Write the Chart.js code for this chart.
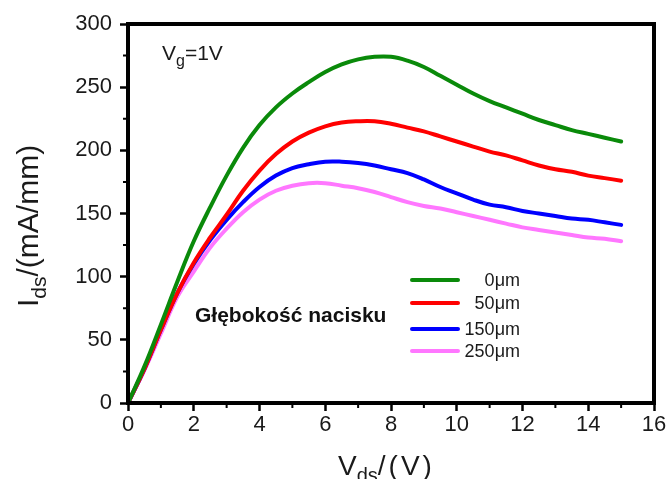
<!DOCTYPE html>
<html>
<head>
<meta charset="utf-8">
<script src="https://cdn.jsdelivr.net/npm/chart.js@4/dist/chart.umd.min.js"></script>
<style>
  html, body { margin: 0; padding: 0; background: #fff; }
  #wrap { width: 668px; height: 479px; }
</style>
</head>
<body>
<div id="wrap"><canvas id="c" width="668" height="479"></canvas></div>
<script>
// Drain voltage (V)
const vds = [0, 0.5, 1, 1.5, 2, 2.5, 3, 3.5, 4, 4.5, 5, 5.5, 6, 6.5, 7, 7.5,
             8, 8.5, 9, 9.5, 10, 10.5, 11, 11.5, 12, 12.5, 13, 13.5, 14, 14.5, 15];

// Drain current (mA/mm) for each indentation depth
const ids0 =   [0, 29, 62, 96, 128, 155, 180, 202, 220, 234, 245, 254, 262, 268, 272, 274,
                274, 271, 266, 259, 252, 245, 239, 234, 229, 224, 220, 216, 213, 210, 207];
const ids50 =  [0, 27, 58, 87, 111, 131, 149, 168, 184, 197, 207, 214, 219, 222, 223, 223,
                221, 218, 215, 211, 207, 203, 199, 196, 192, 188, 185, 183, 180, 178, 176];
const ids150 = [0, 27, 58, 87, 110, 129, 145, 159, 171, 180, 186, 189, 191, 191, 190, 188,
                185, 182, 177, 171, 166, 161, 157, 155, 152, 150, 148, 146, 145, 143, 141];
const ids250 = [0, 26, 55, 84, 104, 123, 138, 151, 161, 168, 172, 174, 174, 172, 170, 167,
                163, 159, 156, 154, 151, 148, 145, 142, 139, 137, 135, 133, 131, 130, 128];

const seriesLabels = ['0\u03bcm', '50\u03bcm', '150\u03bcm', '250\u03bcm'];
const seriesColors = ['#0a8a0a', '#ff0000', '#0000ff', '#ff77ff'];
const seriesValues = [ids0, ids50, ids150, ids250];

const xTicks = [0, 2, 4, 6, 8, 10, 12, 14, 16];
const yTicks = [0, 50, 100, 150, 200, 250, 300];

const FONT = '"Liberation Sans", Arial, sans-serif';
Chart.defaults.font.family = FONT;

// Draws a run of text pieces (with optional subscripts) starting at x, y.
function drawRuns(ctx, runs, x, y) {
  let cx = x;
  for (const r of runs) {
    ctx.font = (r.bold ? 'bold ' : '') + r.size + 'px ' + FONT;
    ctx.letterSpacing = (r.spacing || 0) + 'px';
    ctx.fillText(r.t, cx, y + (r.dy || 0));
    cx += ctx.measureText(r.t).width;
  }
  ctx.letterSpacing = '0px';
}

const decorations = {
  id: 'decorations',
  afterDatasetsDraw(chart) {
    const { ctx, chartArea: a, scales } = chart;
    const xs = scales.x, ys = scales.y;
    ctx.save();

    // plot frame
    ctx.strokeStyle = '#000';
    ctx.lineWidth = 4;
    ctx.strokeRect(a.left, a.top, a.right - a.left, a.bottom - a.top);

    // minor ticks
    ctx.lineWidth = 2;
    ctx.beginPath();
    for (let v = 1; v < 16; v += 2) {
      const px = xs.getPixelForValue(v);
      ctx.moveTo(px, a.bottom);
      ctx.lineTo(px, a.bottom + 5);
    }
    for (let v = 25; v < 300; v += 50) {
      const py = ys.getPixelForValue(v);
      ctx.moveTo(a.left, py);
      ctx.lineTo(a.left - 5, py);
    }
    ctx.stroke();

    ctx.fillStyle = '#1a1a1a';
    ctx.textAlign = 'left';
    ctx.textBaseline = 'alphabetic';

    // gate voltage note
    drawRuns(ctx, [
      { t: 'V', size: 21 },
      { t: 'g', size: 16, dy: 6 },
      { t: '=1V', size: 21 }
    ], 162, 60);

    // legend group caption
    ctx.fillStyle = '#111';
    drawRuns(ctx, [{ t: 'G\u0142\u0119boko\u015b\u0107 nacisku', size: 21, bold: true }], 195, 322);

    // legend
    const rowsY = [280, 303, 329, 351];
    chart.data.datasets.forEach((ds, i) => {
      ctx.strokeStyle = ds.borderColor;
      ctx.lineWidth = 4;
      ctx.lineCap = 'round';
      ctx.beginPath();
      ctx.moveTo(412, rowsY[i]);
      ctx.lineTo(458, rowsY[i]);
      ctx.stroke();
      ctx.fillStyle = '#1a1a1a';
      ctx.font = '18px ' + FONT;
      ctx.textAlign = 'right';
      ctx.textBaseline = 'middle';
      ctx.fillText(ds.label, 520, rowsY[i] + 1);
    });

    // axis titles
    ctx.fillStyle = '#1a1a1a';
    ctx.textAlign = 'left';
    ctx.textBaseline = 'alphabetic';
    drawRuns(ctx, [
      { t: 'V', size: 28 },
      { t: 'ds', size: 20, dy: 7 },
      { t: '/(V)', size: 28, spacing: 3 }
    ], 338, 475);

    ctx.save();
    ctx.translate(38, 307);
    ctx.rotate(-Math.PI / 2);
    drawRuns(ctx, [
      { t: 'I', size: 30 },
      { t: 'ds', size: 21, dy: 8 },
      { t: '/(mA/mm)', size: 30 }
    ], 0, 0);
    ctx.restore();

    ctx.restore();
  }
};

new Chart(document.getElementById('c'), {
  type: 'line',
  data: {
    datasets: seriesValues.map((vals, i) => ({
      label: seriesLabels[i],
      data: vds.map((v, k) => ({ x: v, y: vals[k] })),
      borderColor: seriesColors[i],
      backgroundColor: seriesColors[i],
      borderWidth: 4,
      pointRadius: 0,
      tension: 0.4,
      borderCapStyle: 'round',
      borderJoinStyle: 'round',
      fill: false
    }))
  },
  options: {
    responsive: false,
    animation: false,
    layout: { padding: { top: 24, right: 14, left: 0, bottom: 0 } },
    plugins: { legend: { display: false }, tooltip: { enabled: false } },
    scales: {
      x: {
        type: 'linear',
        min: 0, max: 16,
        afterBuildTicks(scale) { scale.ticks = xTicks.map(v => ({ value: v })); },
        afterFit(scale) { scale.height = 76; },
        ticks: { color: '#1a1a1a', font: { size: 22 }, padding: 1, maxRotation: 0 },
        grid: { display: true, drawOnChartArea: false, drawTicks: true, tickLength: 8, tickWidth: 2.5, tickColor: '#000' },
        border: { display: false }
      },
      y: {
        min: 0, max: 300,
        afterBuildTicks(scale) { scale.ticks = yTicks.map(v => ({ value: v })); },
        afterFit(scale) { scale.width = 128; },
        ticks: { color: '#1a1a1a', font: { size: 22 }, padding: 8 },
        grid: { display: true, drawOnChartArea: false, drawTicks: true, tickLength: 8, tickWidth: 2.5, tickColor: '#000' },
        border: { display: false }
      }
    }
  },
  plugins: [decorations]
});
</script>
</body>
</html>
